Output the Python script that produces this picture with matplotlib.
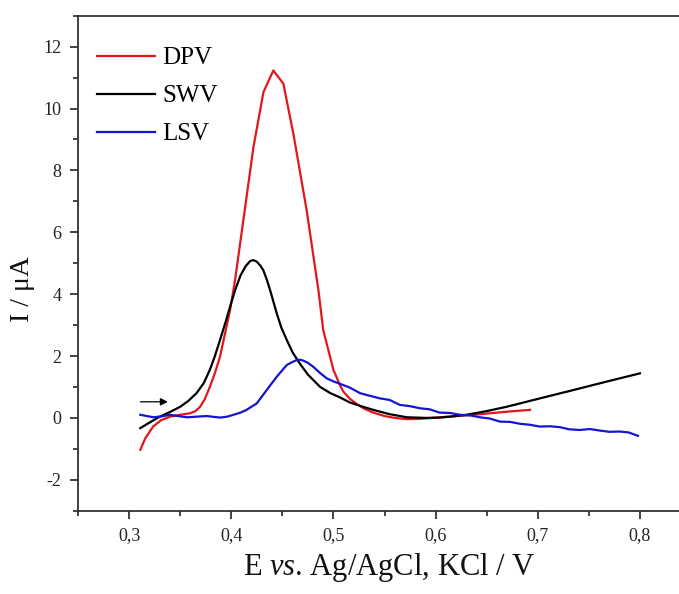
import matplotlib
matplotlib.use("Agg")
import matplotlib.pyplot as plt
from matplotlib.ticker import MultipleLocator, FuncFormatter

# DPV curve (red)
dpv_e = [0.311, 0.316, 0.3235, 0.331, 0.340, 0.350, 0.3597, 0.365, 0.3695,
         0.374, 0.379, 0.384, 0.389, 0.3988, 0.4037, 0.4217, 0.4315, 0.4412,
         0.451, 0.4608, 0.4738, 0.4853, 0.490, 0.500, 0.5065, 0.5097, 0.516,
         0.5228, 0.530, 0.539, 0.550, 0.560, 0.5717, 0.585, 0.6043, 0.637,
         0.6696, 0.6924]
dpv_i = [-1.03, -0.65, -0.28, -0.08, 0.04, 0.1, 0.15, 0.22, 0.36,
         0.6, 1.0, 1.45, 1.98, 3.48, 4.45, 8.75, 10.53, 11.23,
         10.8, 9.18, 6.71, 4.13, 2.84, 1.55, 1.05, 0.85, 0.62,
         0.45, 0.3, 0.17, 0.06, 0.0, -0.04, -0.03, 0.02, 0.1,
         0.2, 0.26]

# SWV curve (black)
swv_e = [0.311, 0.320, 0.330, 0.340, 0.350, 0.358, 0.366, 0.373, 0.379,
         0.384, 0.389, 0.394, 0.3988, 0.404, 0.409, 0.414, 0.4185, 0.4216,
         0.425, 0.4285, 0.4314, 0.435, 0.438, 0.4445, 0.449, 0.4543, 0.460,
         0.467, 0.475, 0.487, 0.497, 0.5065, 0.516, 0.526, 0.539, 0.555,
         0.572, 0.590, 0.604, 0.617, 0.630, 0.650, 0.6696, 0.702, 0.7348,
         0.767, 0.800]
swv_i = [-0.33, -0.15, 0.04, 0.19, 0.36, 0.55, 0.8, 1.12, 1.55,
         2.0, 2.52, 3.05, 3.59, 4.15, 4.6, 4.9, 5.07, 5.1,
         5.05, 4.92, 4.77, 4.45, 4.13, 3.38, 2.92, 2.52, 2.12,
         1.76, 1.4, 1.0, 0.8, 0.66, 0.5, 0.39, 0.26, 0.12,
         0.02, 0.0, 0.01, 0.05, 0.1, 0.22, 0.36, 0.63, 0.9,
         1.17, 1.44]

# LSV curve (blue)
lsv_e = [0.311, 0.3238, 0.332, 0.340, 0.348, 0.3565, 0.366, 0.376, 0.389,
         0.396, 0.402, 0.409, 0.415, 0.425, 0.4347, 0.4445, 0.4543, 0.4595,
         0.464, 0.4675, 0.4706, 0.475, 0.4803, 0.487, 0.4934, 0.500, 0.5065,
         0.516, 0.526, 0.535, 0.5456, 0.555, 0.565, 0.575, 0.5847, 0.594,
         0.604, 0.614, 0.624, 0.634, 0.6434, 0.653, 0.663, 0.673, 0.6826,
         0.692, 0.702, 0.712, 0.7217, 0.731, 0.741, 0.751, 0.761, 0.770,
         0.780, 0.789, 0.798]
lsv_i = [0.1, 0.02, 0.05, 0.1, 0.06, 0.02, 0.04, 0.06, 0.01,
         0.04, 0.1, 0.17, 0.26, 0.47, 0.9, 1.33, 1.71, 1.8,
         1.87, 1.88, 1.85, 1.78, 1.65, 1.45, 1.28, 1.18, 1.1,
         0.98, 0.8, 0.72, 0.63, 0.58, 0.42, 0.38, 0.31, 0.28,
         0.17, 0.16, 0.1, 0.08, 0.02, -0.02, -0.12, -0.13, -0.19,
         -0.22, -0.28, -0.27, -0.3, -0.37, -0.39, -0.36, -0.41, -0.45,
         -0.44, -0.47, -0.58]

plt.rcParams['font.family'] = ['Liberation Serif', 'DejaVu Serif']
plt.rcParams['mathtext.fontset'] = 'custom'
plt.rcParams['mathtext.it'] = 'Liberation Serif:italic'

fig = plt.figure(figsize=(6.79, 5.94), dpi=100)
ax = fig.add_axes([0.1149, 0.1402, 0.9028, 0.8334])

ax.plot(dpv_e, dpv_i, color='#e3161c', lw=1.6, label='DPV')
ax.plot(swv_e, swv_i, color='black', lw=1.6, label='SWV')
ax.plot(lsv_e, lsv_i, color='#1414d2', lw=1.6, label='LSV')

# scan direction arrow
ax.annotate('', xy=(0.338, 0.52), xytext=(0.311, 0.52),
            arrowprops=dict(arrowstyle='-|>', color='black', lw=0.9,
                            mutation_scale=11, shrinkA=0, shrinkB=0))

ax.set_xlim(0.25, 0.85)
ax.set_ylim(-3, 13)
ax.xaxis.set_major_locator(MultipleLocator(0.1))
ax.xaxis.set_minor_locator(MultipleLocator(0.05))
ax.yaxis.set_major_locator(MultipleLocator(2))
ax.yaxis.set_minor_locator(MultipleLocator(1))
ax.xaxis.set_major_formatter(FuncFormatter(lambda v, p: f"{v:.1f}".replace('.', ',')))
ax.yaxis.set_major_formatter(FuncFormatter(lambda v, p: f"{int(round(v))}"))

ax.tick_params(which='both', direction='out', labelsize=13, colors='#222222',
               width=1.2, top=False, right=False)
ax.tick_params(which='major', length=6, pad=6)
ax.tick_params(which='minor', length=3.5)
for s in ['left', 'bottom', 'top']:
    ax.spines[s].set_linewidth(1.3)
    ax.spines[s].set_color('#333333')
ax.spines['right'].set_visible(False)

fig.text(0.573, 0.032, r'E $\mathit{vs}$. Ag/AgCl, KCl / V', fontsize=22,
         ha='center', va='baseline', color='#111111')
fig.text(0.033, 0.513, 'I / \u03bcA', fontsize=20, rotation=90,
         ha='center', va='center', color='#111111')

ax.legend(loc='upper left', bbox_to_anchor=(0.031, 0.937), frameon=False,
          fontsize=18, handlelength=2.3, handletextpad=0.3, labelspacing=0.62,
          borderpad=0, borderaxespad=0)

fig.savefig('out.png', dpi=100)
